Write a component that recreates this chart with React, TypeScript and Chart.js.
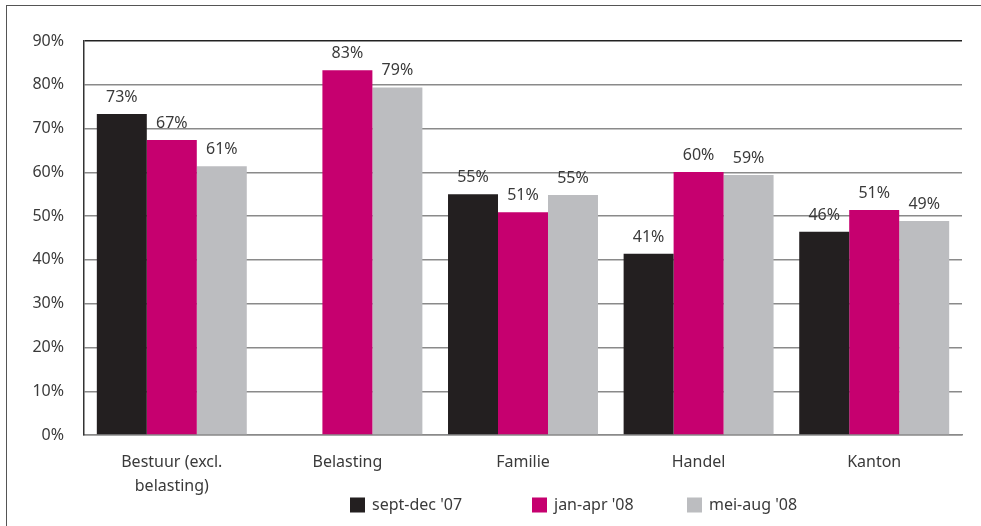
import React, { useEffect, useRef } from "react";
import { Chart, registerables } from "chart.js";

Chart.register(...registerables);

const categories: (string | string[])[] = [
  ["Bestuur (excl.", "belasting)"],
  "Belasting",
  "Familie",
  "Handel",
  "Kanton",
];
const seriesNames = ["sept-dec '07", "jan-apr '08", "mei-aug '08"];
const sepDec07: (number | null)[] = [73.3, null, 55.0, 41.4, 46.4];
const janApr08: (number | null)[] = [67.4, 83.3, 50.9, 60.1, 51.4];
const meiAug08: (number | null)[] = [61.4, 79.4, 54.8, 59.4, 48.9];
const seriesColors = ["#231f20", "#c6006f", "#bcbdc0"];
const yTicks = [0, 10, 20, 30, 40, 50, 60, 70, 80, 90];

const FONT = "'Noto Sans', 'Open Sans', sans-serif";
const TEXT = "#3a3a3a";
const FS = 16;

const valueLabels = {
  id: "valueLabels",
  afterDatasetsDraw(chart: any) {
    const ctx = chart.ctx;
    ctx.save();
    ctx.font = `${FS}px ${FONT}`;
    ctx.fillStyle = TEXT;
    ctx.textAlign = "center";
    ctx.textBaseline = "alphabetic";
    chart.data.datasets.forEach((ds: any, i: number) => {
      const meta = chart.getDatasetMeta(i);
      meta.data.forEach((el: any, j: number) => {
        const v = ds.data[j];
        if (v === null || v === undefined) return;
        ctx.fillText(`${Math.round(v)}%`, el.x, el.y - 12);
      });
    });
    ctx.restore();
  },
};

const legendXs = [350, 532, 687];
const customLegend = {
  id: "customLegend",
  afterDraw(chart: any) {
    const ctx = chart.ctx;
    ctx.save();
    ctx.font = `${FS}px ${FONT}`;
    ctx.textBaseline = "middle";
    ctx.textAlign = "left";
    chart.data.datasets.forEach((ds: any, i: number) => {
      const x = legendXs[i];
      const y = 505;
      ctx.fillStyle = ds.backgroundColor;
      ctx.fillRect(x, y - 7.5, 15, 15);
      ctx.fillStyle = TEXT;
      ctx.fillText(ds.label, x + 22, y);
    });
    ctx.restore();
  },
};

export default function App() {
  const ref = useRef<HTMLCanvasElement>(null);
  useEffect(() => {
    if (!ref.current) return;
    const chart = new Chart(ref.current, {
      type: "bar",
      data: {
        labels: categories,
        datasets: [sepDec07, janApr08, meiAug08].map((d, i) => ({
          label: seriesNames[i],
          data: d,
          backgroundColor: seriesColors[i],
          borderWidth: 0,
          barPercentage: 1,
          categoryPercentage: 0.854,
        })),
      },
      options: {
        responsive: false,
        animation: false,
        layout: { padding: { left: 0, right: 19, top: 41, bottom: 0 } },
        plugins: {
          legend: { display: false },
          tooltip: { enabled: false },
        },
        scales: {
          x: {
            grid: { display: false, drawTicks: false },
            border: { display: true, color: "#8a8a8a", width: 1.5 },
            ticks: {
              padding: 15,
              color: TEXT,
              font: { family: FONT, size: FS, lineHeight: 1.5 },
              maxRotation: 0,
              autoSkip: false,
            },
            afterFit(scale: any) {
              scale.height = 91;
            },
          },
          y: {
            min: 0,
            max: 90,
            afterBuildTicks(scale: any) {
              scale.ticks = yTicks.map((v) => ({ value: v }));
            },
            grid: {
              drawTicks: false,
              color: (c: any) => (c.tick && c.tick.value === 90 ? "#222" : "#8a8a8a"),
              lineWidth: 1.4,
            },
            border: { display: true, color: "#333", width: 1.5 },
            ticks: {
              padding: 20,
              color: TEXT,
              font: { family: FONT, size: FS },
              callback: (v: any) => `${v}%`,
            },
            afterFit(scale: any) {
              scale.width = 84;
            },
          },
        },
      },
      plugins: [valueLabels, customLegend],
    });
    return () => chart.destroy();
  }, []);

  return (
    <div style={{ position: "fixed", left: 0, top: 0, width: 981, height: 526, background: "#fff", overflow: "hidden" }}>
      <div
        style={{
          position: "absolute",
          left: 6,
          top: 5,
          width: 1000,
          height: 560,
          border: "1.5px solid #555",
          boxSizing: "border-box",
        }}
      />
      <canvas ref={ref} width={981} height={526} style={{ position: "absolute", left: 0, top: 0 }} />
    </div>
  );
}
